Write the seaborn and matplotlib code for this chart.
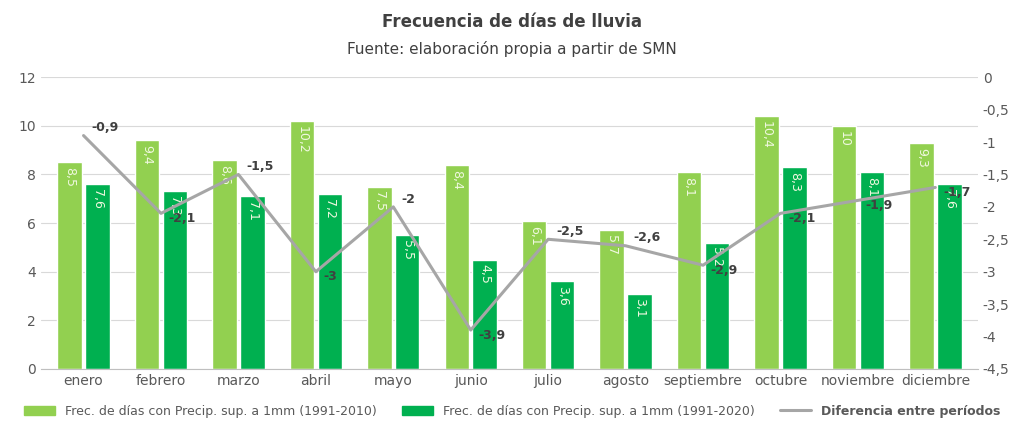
import numpy as np
import pandas as pd
import matplotlib
matplotlib.use("Agg")
import matplotlib.pyplot as plt
import seaborn as sns
from matplotlib.patches import Patch
from matplotlib.lines import Line2D

meses = ["enero", "febrero", "marzo", "abril", "mayo", "junio", "julio",
         "agosto", "septiembre", "octubre", "noviembre", "diciembre"]
frec_1991_2010 = [8.5, 9.4, 8.6, 10.2, 7.5, 8.4, 6.1, 5.7, 8.1, 10.4, 10, 9.3]
frec_1991_2020 = [7.6, 7.3, 7.1, 7.2, 5.5, 4.5, 3.6, 3.1, 5.2, 8.3, 8.1, 7.6]
diferencia = [-0.9, -2.1, -1.5, -3, -2, -3.9, -2.5, -2.6, -2.9, -2.1, -1.9, -1.7]

lab1 = "Frec. de días con Precip. sup. a 1mm (1991-2010)"
lab2 = "Frec. de días con Precip. sup. a 1mm (1991-2020)"
lab3 = "Diferencia entre períodos"

def coma(v):
    return ("%g" % v).replace(".", ",")

sns.set_style("white")
plt.rcParams['font.family'] = ['DejaVu Sans']

df = pd.DataFrame({"mes": meses * 2,
                   "valor": frec_1991_2010 + frec_1991_2020,
                   "serie": [lab1] * 12 + [lab2] * 12})

fig, ax = plt.subplots(figsize=(10.24, 4.29), dpi=100)
sns.barplot(data=df, x="mes", y="valor", hue="serie", ax=ax, saturation=1,
            palette=["#92D050", "#00B050"], width=0.72, gap=0.12, legend=False)
ax.set_xlim(-0.55, 11.55)
ax.set_ylim(0, 12)
ax.set_yticks(range(0, 13, 2))
ax.yaxis.grid(True, color="#D9D9D9", lw=0.8)
ax.set_axisbelow(True)
ax.set_xlabel("")
ax.set_ylabel("")
for s in ["top", "left", "right"]:
    ax.spines[s].set_visible(False)
ax.spines["bottom"].set_color("#BFBFBF")
ax.tick_params(colors="#595959", labelsize=10, length=0)

for cont in ax.containers:
    for bar in cont:
        h = bar.get_height()
        ax.text(bar.get_x() + bar.get_width() / 2, h - 0.2, coma(h),
                rotation=-90, ha="center", va="top", fontsize=9, color="#F0F8E0")

ax2 = ax.twinx()
sns.lineplot(x=np.arange(12), y=diferencia, ax=ax2, color="#A6A6A6", lw=2.2)
ax2.set_xlim(-0.55, 11.55)
ax2.set_ylim(-4.5, 0)
ax2.set_yticks(np.arange(-4.5, 0.01, 0.5))
ax2.set_yticklabels([coma(round(v, 1)) for v in np.arange(-4.5, 0.01, 0.5)])
for s in ["top", "left", "right", "bottom"]:
    ax2.spines[s].set_visible(False)
ax2.tick_params(colors="#595959", labelsize=10, length=0)
for i, d in enumerate(diferencia):
    ax2.text(i + 0.1, d + 0.02, coma(d), fontsize=9, fontweight="bold",
             color="#404040", va="bottom" if i in (0, 2, 4, 6, 7) else "top")

fig.suptitle("Frecuencia de días de lluvia", fontsize=12, fontweight="bold",
             color="#404040", y=0.97)
fig.text(0.5, 0.875, "Fuente: elaboración propia a partir de SMN", ha="center",
         fontsize=11, color="#404040")

handles = [Patch(color="#92D050", label=lab1), Patch(color="#00B050", label=lab2),
           Line2D([0], [0], color="#A6A6A6", lw=2.2, label=lab3)]
leg = fig.legend(handles=handles, loc="lower center", ncol=3, frameon=False,
                 fontsize=9, bbox_to_anchor=(0.5, 0.0), handlelength=2.5)
for t in leg.get_texts():
    t.set_color("#595959")
leg.get_texts()[2].set_fontweight("bold")

fig.subplots_adjust(left=0.04, right=0.955, top=0.82, bottom=0.14)
fig.savefig("out.png", dpi=100)
